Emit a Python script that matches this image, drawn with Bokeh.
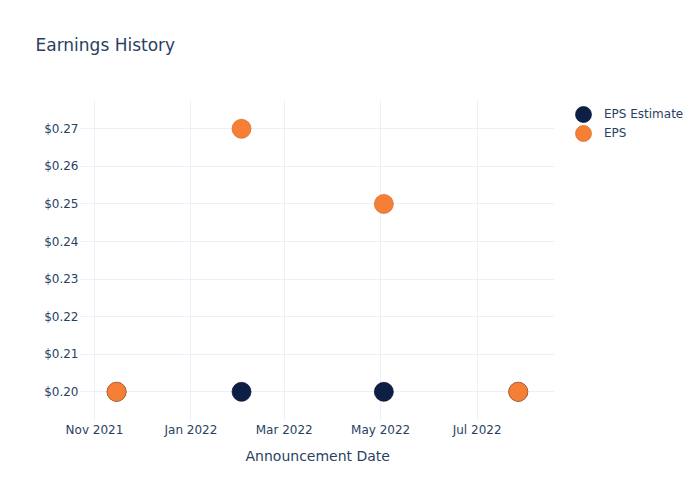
from datetime import datetime, timedelta
from bokeh.plotting import figure
from bokeh.models import (ColumnDataSource, Legend, LegendItem, DatetimeTickFormatter,
                          FixedTicker, NumeralTickFormatter, Range1d, Title, BoxAnnotation)
from bokeh.embed import file_html
from bokeh.resources import INLINE

# ---- data ----
dates = ["2021-11-15", "2022-02-02", "2022-05-03", "2022-07-27"]
eps_estimate = [0.20, 0.20, 0.20, 0.20]
eps_actual = [0.20, 0.27, 0.25, 0.20]
x_tick_labels = ["2021-11-01", "2022-01-01", "2022-03-01", "2022-05-01", "2022-07-01"]
y_ticks = [0.20, 0.21, 0.22, 0.23, 0.24, 0.25, 0.26, 0.27]

def to_dt(s):
    return datetime.strptime(s, "%Y-%m-%d")

def to_ms(d):
    return (d - datetime(1970, 1, 1)).total_seconds() * 1000.0

xs = [to_dt(d) for d in dates]
src_est = ColumnDataSource(dict(x=xs, y=eps_estimate))
src_eps = ColumnDataSource(dict(x=xs, y=eps_actual))

FONT = "DejaVu Sans"
TXT = "#2a3f5f"
GRID = "#ebf0f8"
NAVY = "#0c1f45"
ORANGE = "#f47f35"

# visible plotting area (474 px) spans x_start..x_plot_end; the frame is
# extended to the right edge (620 px) so the legend can sit beside the plot
x_start = to_dt("2021-10-23") + timedelta(hours=4)
x_plot_end = to_dt("2022-08-18") + timedelta(hours=22)
x_end = x_start + (x_plot_end - x_start) * (620.0 / 474.0)

p = figure(width=700, height=500, x_axis_type="datetime",
           output_backend="svg", toolbar_location=None,
           x_range=Range1d(x_start, x_end), y_range=Range1d(0.19236, 0.27753),
           min_border_left=80, min_border_right=0, min_border_top=100, min_border_bottom=80)
p.title = None
p.outline_line_color = None
p.background_fill_color = "white"
p.border_fill_color = "white"

r_est = p.scatter("x", "y", source=src_est, size=19, fill_color=NAVY,
                  line_color="#061430", line_width=0.7)
r_eps = p.scatter("x", "y", source=src_eps, size=19, fill_color=ORANGE,
                  line_color="#d9692a", line_width=0.7)

# axes
p.xaxis.ticker = FixedTicker(ticks=[to_ms(to_dt(d)) for d in x_tick_labels])
p.xaxis.formatter = DatetimeTickFormatter(months="%b %Y", days="%b %Y", years="%b %Y")
p.yaxis.ticker = FixedTicker(ticks=y_ticks)
p.yaxis.formatter = NumeralTickFormatter(format="$0.00")
for ax in (p.xaxis, p.yaxis):
    ax.axis_line_color = None
    ax.major_tick_line_color = None
    ax.minor_tick_line_color = None
    ax.major_tick_out = 0
    ax.major_tick_in = 0
    ax.minor_tick_out = 0
    ax.major_label_text_font = FONT
    ax.major_label_text_font_size = "12px"
    ax.major_label_text_color = TXT
p.xaxis.major_label_standoff = 2
p.yaxis.major_label_standoff = 2

p.xgrid.grid_line_color = GRID
p.ygrid.grid_line_color = GRID
p.xgrid.grid_line_width = 1
p.ygrid.grid_line_width = 1

# hide grid beyond the plotting area
cover = BoxAnnotation(left=x_plot_end, fill_color="white", fill_alpha=1.0,
                      line_color=None, level="underlay")
p.add_layout(cover)

# x axis title (centred under the visible plotting area)
xlab = Title(text="Announcement Date", text_font=FONT, text_font_size="14px",
             text_color=TXT, text_font_style="normal", align="left", offset=165,
             standoff=13)
p.add_layout(xlab, "below")

# blank spacer (next to the frame; "above" panel is stacked in reverse order),
# then the chart title above it
spacer = Title(text=".", text_font=FONT, text_font_size="10px", text_color="white",
               standoff=36)
p.add_layout(spacer, "above")
t = Title(text="Earnings History", text_font=FONT, text_font_size="17px",
          text_color=TXT, text_font_style="normal", align="left", offset=-45,
          standoff=0)
p.add_layout(t, "above")

leg_common = dict(orientation="vertical", label_text_font=FONT,
                  label_text_font_size="12px", label_text_color=TXT,
                  glyph_width=40, glyph_height=40, spacing=0, padding=0,
                  label_standoff=1, border_line_color=None, background_fill_alpha=0)
legend1 = Legend(items=[LegendItem(label="EPS Estimate", renderers=[r_est])],
                 location=(483, 286), **leg_common)
legend2 = Legend(items=[LegendItem(label="EPS", renderers=[r_eps])],
                 location=(483, 267), **leg_common)
p.add_layout(legend1, "center")
p.add_layout(legend2, "center")

open("out.html", "w").write(file_html(p, INLINE))
